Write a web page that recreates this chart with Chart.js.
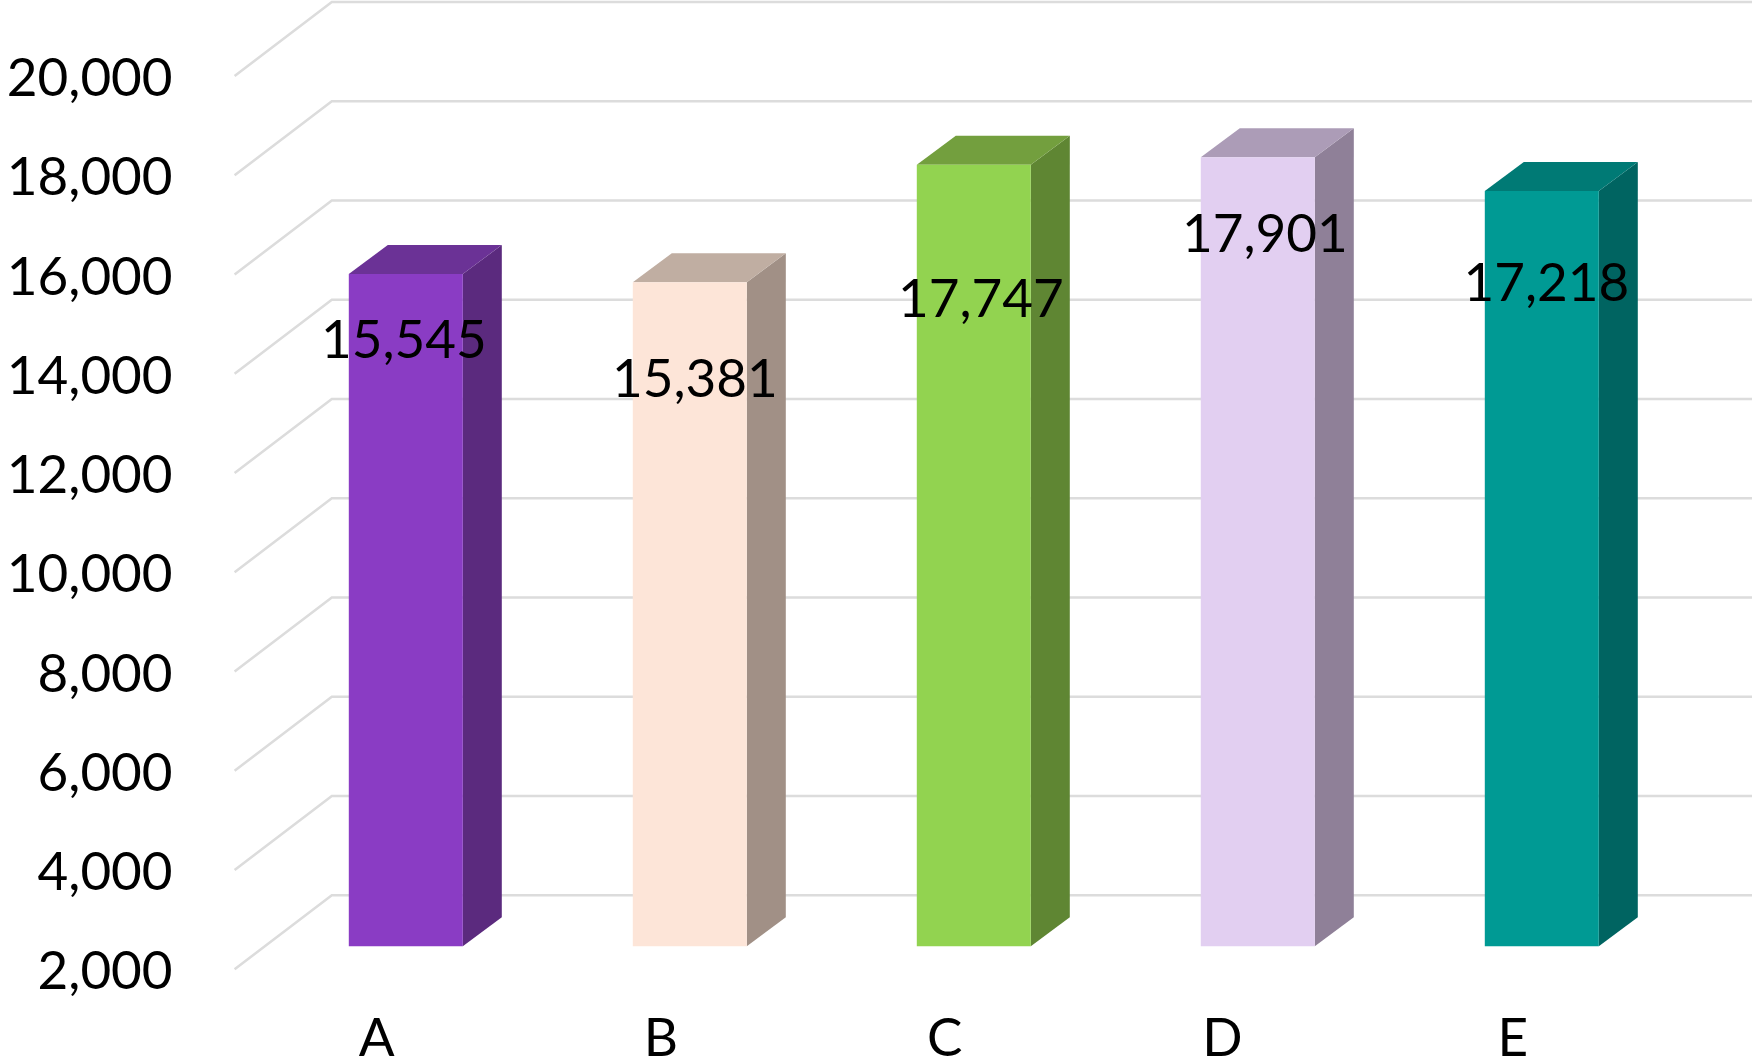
<!DOCTYPE html>
<html>
<head>
<meta charset="utf-8">
<style>html,body{margin:0;padding:0;background:#fff}canvas{display:block}</style>
<script src="https://cdn.jsdelivr.net/npm/chart.js@4"></script>
</head>
<body>
<canvas id="c" width="1752" height="1062"></canvas>
<script>
const categories = ["A", "B", "C", "D", "E"];
const values = [15545, 15381, 17747, 17901, 17218];
const axisMin = 2000;
const axisMax = 20000;
const axisStep = 2000;

const frontColors = ["#8A3CC4", "#FDE5D8", "#92D350", "#E2CFF1", "#009A94"];
const sideColors = ["#5B2A7E", "#A19086", "#5F8633", "#8F8098", "#006461"];
const topColors = ["#6B3296", "#C0AEA2", "#739F3E", "#AC9CB7", "#007A75"];

const labelNudgeX = [-2, 5, 7, 7, 4.5];
const labelNudgeY = [67, 98, 135, 78, 93];
const categoryNudgeX = [0, 0, 0, -6.5, 0];

const PLOT = {left: 263.8, right: 1683.8, top: 53, bottom: 946.2};
const DEPTH_X = 39, DEPTH_Y = 29;
const FRONT_X = 234.6, BACK_X = 331.8, FRONT_DY = 23, BACK_DY = -51;
const FONT = '53px Lato';

const faces3d = {
  id: 'faces3d',
  beforeDraw(chart) {
    chart.scales.x.getLabelItems().forEach((item, i) => {
      item.options.translation[0] += categoryNudgeX[i];
    });
  },
  beforeDatasetsDraw(chart) {
    const ctx = chart.ctx, y = chart.scales.y;
    ctx.save();
    ctx.strokeStyle = '#DCDCDC';
    ctx.lineWidth = 2.6;
    ctx.lineJoin = 'miter';
    y.ticks.forEach(t => {
      const p = y.getPixelForValue(t.value);
      ctx.beginPath();
      ctx.moveTo(FRONT_X, p + FRONT_DY);
      ctx.lineTo(BACK_X, p + BACK_DY);
      ctx.lineTo(chart.width, p + BACK_DY);
      ctx.stroke();
    });
    const base = y.getPixelForValue(axisMin);
    const meta = chart.getDatasetMeta(0);
    meta.data.forEach((el, i) => {
      const r = el.x + el.width / 2, l = el.x - el.width / 2;
      ctx.fillStyle = sideColors[i];
      ctx.beginPath();
      ctx.moveTo(r, el.y);
      ctx.lineTo(r + DEPTH_X, el.y - DEPTH_Y);
      ctx.lineTo(r + DEPTH_X, base - DEPTH_Y);
      ctx.lineTo(r, base);
      ctx.closePath();
      ctx.fill();
      ctx.fillStyle = topColors[i];
      ctx.beginPath();
      ctx.moveTo(l, el.y);
      ctx.lineTo(l + DEPTH_X, el.y - DEPTH_Y);
      ctx.lineTo(r + DEPTH_X, el.y - DEPTH_Y);
      ctx.lineTo(r, el.y);
      ctx.closePath();
      ctx.fill();
    });
    ctx.restore();
  },
  afterDatasetsDraw(chart) {
    const ctx = chart.ctx;
    ctx.save();
    ctx.font = FONT;
    ctx.fillStyle = '#000';
    ctx.textAlign = 'center';
    ctx.textBaseline = 'middle';
    chart.getDatasetMeta(0).data.forEach((el, i) => {
      ctx.fillText(values[i].toLocaleString('en-US'), el.x + labelNudgeX[i], el.y + labelNudgeY[i]);
    });
    ctx.restore();
  }
};

const noMargins = s => { s.paddingTop = 0; s.paddingBottom = 0; s.paddingLeft = 0; s.paddingRight = 0; };

new Chart(document.getElementById('c'), {
  type: 'bar',
  data: {
    labels: categories,
    datasets: [{
      data: values,
      backgroundColor: frontColors,
      borderWidth: 0,
      categoryPercentage: 1,
      barPercentage: 114 / 284
    }]
  },
  plugins: [faces3d],
  options: {
    responsive: false,
    animation: false,
    layout: {padding: {top: PLOT.top, right: 1752 - PLOT.right, left: 0, bottom: 0}},
    plugins: {legend: {display: false}, tooltip: {enabled: false}, title: {display: false}},
    scales: {
      x: {
        grid: {display: false, drawTicks: false},
        border: {display: false},
        ticks: {color: '#000', font: {family: 'Lato', size: 53}, padding: 61, labelOffset: -29, maxRotation: 0, autoSkip: false},
        afterFit(s) { s.height = 1062 - PLOT.bottom; noMargins(s); }
      },
      y: {
        min: axisMin,
        max: axisMax,
        grid: {display: false, drawTicks: false},
        border: {display: false},
        ticks: {
          stepSize: axisStep,
          color: '#000',
          font: {family: 'Lato', size: 53},
          padding: 91.2,
          labelOffset: 26,
          callback: v => v.toLocaleString('en-US')
        },
        afterFit(s) { s.width = PLOT.left; noMargins(s); }
      }
    }
  }
});
</script>
</body>
</html>
